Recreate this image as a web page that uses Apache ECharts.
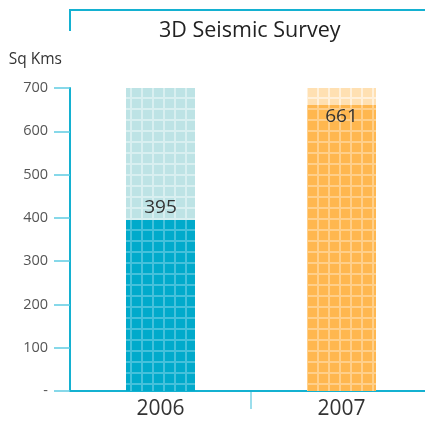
<!DOCTYPE html>
<html>
<head>
<meta charset="utf-8">
<script src="https://cdn.jsdelivr.net/npm/echarts@6/dist/echarts.min.js"></script>
<style>
html,body{margin:0;padding:0;background:#fff;}
#chart{width:425px;height:424px;}
</style>
</head>
<body>
<div id="chart"></div>
<script>
var categories = ['2006', '2007'];
var values = [395, 661];
var capacity = [700, 700];
var yTicks = [0, 100, 200, 300, 400, 500, 600, 700];

var FONT = '"Open Sans", sans-serif';
var darkColors = ['#00aacb', '#ffb74f'];
var darkLines = ['#45c1db', '#ffcf8a'];
var lightColors = ['#bde3e5', '#ffe0b2'];
var lightLines = ['#d8eff0', '#fff0da'];

function decal(c) {
  return { symbol: 'rect', symbolSize: 1, dashArrayX: [9, 1.2], dashArrayY: [9, 1.2], color: c };
}

var chart = echarts.init(document.getElementById('chart'));
chart.setOption({
  animation: false,
  title: {
    text: '3D Seismic Survey',
    left: 154, top: 15,
    textStyle: { fontFamily: FONT, fontSize: 21.5, fontWeight: 'normal', color: '#222' }
  },
  grid: { left: 70, width: 362, top: 88, bottom: 33, outerBoundsMode: 'none', containLabel: false },
  xAxis: {
    type: 'category',
    data: categories,
    axisLine: { lineStyle: { color: '#14b1d1', width: 2 } },
    axisTick: { show: false },
    axisLabel: { fontFamily: FONT, fontSize: 21, color: '#333', margin: 8 }
  },
  yAxis: {
    type: 'value',
    min: 0, max: 700, interval: 100,
    name: 'Sq Kms',
    nameLocation: 'end',
    nameGap: 20,
    nameTextStyle: { fontFamily: FONT, fontSize: 15.5, color: '#333', align: 'right', padding: [0, 8, 0, 0] },
    axisLine: { show: true, lineStyle: { color: '#14b1d1', width: 2 } },
    axisTick: { show: true, length: 16, lineStyle: { color: '#5fcbe2', width: 1.5 } },
    axisLabel: {
      fontFamily: FONT, fontSize: 14.5, color: '#555', margin: 22,
      formatter: function (v) { return yTicks.indexOf(v) >= 0 && v === 0 ? '-' : String(v); }
    },
    splitLine: { show: false }
  },
  series: [{
    type: 'bar',
    barWidth: 69,
    silent: true,
    z: 1,
    data: capacity.map(function (v, i) {
      return { value: v, itemStyle: { color: lightLines[i], decal: decal(lightColors[i]) } };
    })
  }, {
    type: 'bar',
    barWidth: 69,
    barGap: '-100%',
    z: 2,
    data: values.map(function (v, i) {
      return {
        value: v,
        itemStyle: { color: darkLines[i], decal: decal(darkColors[i]) },
        label: {
          show: true,
          position: i === 0 ? 'top' : 'insideTop',
          distance: i === 0 ? 3 : 2,
          fontFamily: FONT, fontSize: 19, color: '#333'
        }
      };
    })
  }]
});

// decorative frame and the category-boundary tick, placed from the axis scales
var p0 = chart.convertToPixel({ xAxisIndex: 0, yAxisIndex: 0 }, [categories[0], 0]);
var p1 = chart.convertToPixel({ xAxisIndex: 0, yAxisIndex: 0 }, [categories[1], 0]);
var axisX = p0[0] - (p1[0] - p0[0]) / 2;
var midX = (p0[0] + p1[0]) / 2;
var baseY = p0[1];
chart.setOption({
  graphic: [{
    type: 'polyline',
    shape: { points: [[axisX, 31], [axisX, 10], [425, 10]] },
    style: { stroke: '#14b1d1', lineWidth: 2, fill: null }
  }, {
    type: 'line',
    shape: { x1: midX, y1: baseY + 1, x2: midX, y2: baseY + 18 },
    style: { stroke: '#7ad3e6', lineWidth: 1.5 }
  }]
});
</script>
</body>
</html>
